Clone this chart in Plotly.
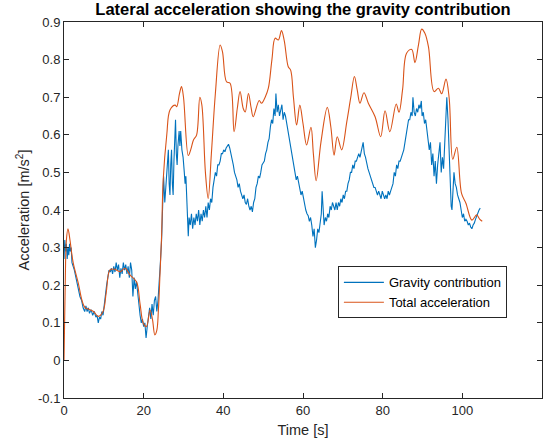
import plotly.graph_objects as go

# Gravity contribution (blue) - time [s], acceleration [m/s^2]
t_grav = [0.0, 0.2, 0.4, 0.6, 0.8, 1.0, 1.2, 1.4, 1.6, 1.8, 2.0, 2.3, 2.6, 3.0, 3.4, 3.7, 4.0, 4.4, 4.8, 5.2,
          5.5, 5.8, 6.1, 6.4, 6.8, 7.2, 7.6, 8.0, 8.3, 8.6, 8.9, 9.2, 9.5, 9.8, 10.1, 10.4, 10.7, 11.0, 11.3, 11.6,
          11.9, 12.2, 12.5, 12.8, 13.1, 13.4, 13.7, 14.0, 14.3, 14.6, 14.9, 15.2, 15.5, 15.8, 16.1, 16.4, 16.7, 17.0, 17.3, 17.6,
          17.9, 18.2, 18.5, 18.8, 19.1, 19.4, 19.7, 20.0, 20.3, 20.6, 20.9, 21.2, 21.5, 21.8, 22.1, 22.4, 22.7, 23.0, 23.3, 23.6,
          23.9, 24.2, 24.5, 24.8, 25.0, 25.3, 25.6, 25.9, 26.2, 26.4, 26.6, 26.8, 27.0, 27.2, 27.4, 27.6, 27.8, 28.0, 28.2, 28.4,
          28.6, 28.9, 29.1, 29.3, 29.6, 29.9, 30.2, 30.4, 30.6, 30.8, 31.0, 31.2, 31.4, 31.7, 32.0, 32.3, 32.6, 32.9, 33.2, 33.5,
          33.8, 34.1, 34.4, 34.7, 35.0, 35.3, 35.6, 35.9, 36.2, 36.5, 36.8, 37.1, 37.4, 37.7, 38.0, 38.3, 38.6, 38.9, 39.2, 39.5,
          39.8, 40.1, 40.4, 40.7, 41.0, 41.3, 41.6, 41.9, 42.2, 42.5, 42.8, 43.1, 43.4, 43.7, 44.0, 44.3, 44.6, 44.9, 45.2, 45.5,
          45.8, 46.1, 46.4, 46.7, 47.0, 47.3, 47.6, 47.9, 48.2, 48.5, 48.8, 49.1, 49.4, 49.7, 50.0, 50.3, 50.6, 50.9, 51.2, 51.5,
          51.8, 52.1, 52.4, 52.7, 53.0, 53.2, 53.5, 53.8, 54.1, 54.4, 54.7, 55.0, 55.3, 55.6, 55.9, 56.2, 56.5, 56.8, 57.1, 57.4,
          57.7, 58.0, 58.3, 58.6, 58.9, 59.2, 59.5, 59.8, 60.1, 60.4, 60.7, 61.0, 61.3, 61.6, 61.9, 62.2, 62.5, 62.8, 63.1, 63.4,
          63.7, 64.0, 64.3, 64.6, 64.8, 65.0, 65.3, 65.6, 65.9, 66.2, 66.5, 66.8, 67.1, 67.4, 67.7, 68.0, 68.3, 68.6, 68.9, 69.2,
          69.5, 69.8, 70.1, 70.4, 70.7, 71.0, 71.3, 71.6, 71.9, 72.2, 72.5, 72.8, 73.1, 73.4, 73.7, 74.0, 74.3, 74.6, 74.9, 75.1,
          75.4, 75.7, 76.0, 76.3, 76.6, 76.9, 77.2, 77.5, 77.8, 78.1, 78.4, 78.7, 79.0, 79.3, 79.6, 79.9, 80.2, 80.5, 80.8, 81.1,
          81.4, 81.7, 82.0, 82.3, 82.6, 82.9, 83.2, 83.5, 83.8, 84.1, 84.4, 84.7, 85.0, 85.3, 85.6, 85.9, 86.2, 86.5, 86.8, 87.1,
          87.4, 87.6, 87.9, 88.2, 88.5, 88.8, 89.1, 89.4, 89.7, 89.9, 90.2, 90.5, 90.8, 91.1, 91.4, 91.7, 92.0, 92.3, 92.6, 92.9,
          93.2, 93.5, 93.8, 94.1, 94.4, 94.7, 95.0, 95.3, 95.6, 95.9, 96.1, 96.4, 96.7, 96.9, 97.2, 97.4, 97.7, 97.9, 98.2, 98.5,
          98.8, 99.1, 99.4, 99.7, 100.0, 100.3, 100.6, 100.9, 101.2, 101.5, 101.8, 102.1, 102.4, 102.7, 103.0, 103.3, 103.6, 103.9, 104.2, 104.5]
a_grav = [0.27, 0.32, 0.29, 0.31, 0.27, 0.30, 0.28, 0.31, 0.29, 0.30, 0.26, 0.25, 0.24, 0.22, 0.20, 0.19, 0.17, 0.16, 0.14, 0.13,
          0.145, 0.13, 0.14, 0.125, 0.135, 0.12, 0.13, 0.115, 0.12, 0.10, 0.115, 0.11, 0.13, 0.12, 0.15, 0.17, 0.20, 0.22, 0.24, 0.235,
          0.245, 0.23, 0.25, 0.235, 0.26, 0.24, 0.255, 0.22, 0.245, 0.23, 0.26, 0.24, 0.255, 0.23, 0.25, 0.22, 0.26, 0.24, 0.17, 0.22,
          0.19, 0.21, 0.17, 0.15, 0.12, 0.10, 0.11, 0.09, 0.10, 0.06, 0.09, 0.12, 0.14, 0.11, 0.15, 0.12, 0.16, 0.17, 0.13, 0.16,
          0.20, 0.26, 0.32, 0.44, 0.49, 0.42, 0.46, 0.50, 0.56, 0.47, 0.44, 0.52, 0.56, 0.47, 0.44, 0.53, 0.58, 0.64, 0.55, 0.52,
          0.57, 0.61, 0.57, 0.61, 0.56, 0.54, 0.50, 0.47, 0.49, 0.43, 0.37, 0.33, 0.38, 0.36, 0.39, 0.35, 0.38, 0.36, 0.39, 0.37,
          0.40, 0.36, 0.39, 0.37, 0.40, 0.38, 0.41, 0.38, 0.42, 0.40, 0.43, 0.42, 0.46, 0.48, 0.50, 0.49, 0.52, 0.52, 0.53, 0.55,
          0.55, 0.56, 0.555, 0.565, 0.57, 0.575, 0.565, 0.55, 0.54, 0.52, 0.50, 0.49, 0.48, 0.46, 0.47, 0.45, 0.44, 0.43, 0.44, 0.42,
          0.415, 0.43, 0.41, 0.40, 0.41, 0.395, 0.42, 0.43, 0.46, 0.47, 0.49, 0.485, 0.50, 0.52, 0.525, 0.53, 0.55, 0.56, 0.58, 0.59,
          0.62, 0.64, 0.63, 0.67, 0.65, 0.71, 0.66, 0.68, 0.65, 0.67, 0.68, 0.64, 0.66, 0.65, 0.63, 0.62, 0.60, 0.57, 0.55, 0.53,
          0.51, 0.50, 0.48, 0.49, 0.47, 0.46, 0.44, 0.45, 0.43, 0.41, 0.40, 0.39, 0.385, 0.37, 0.38, 0.36, 0.33, 0.35, 0.30, 0.32,
          0.35, 0.34, 0.37, 0.39, 0.45, 0.40, 0.36, 0.38, 0.37, 0.39, 0.38, 0.41, 0.40, 0.42, 0.41, 0.40, 0.42, 0.40, 0.42, 0.41,
          0.43, 0.42, 0.44, 0.43, 0.45, 0.45, 0.47, 0.48, 0.50, 0.50, 0.52, 0.51, 0.53, 0.53, 0.54, 0.55, 0.54, 0.56, 0.57, 0.58,
          0.55, 0.54, 0.52, 0.51, 0.50, 0.49, 0.48, 0.47, 0.46, 0.46, 0.45, 0.44, 0.45, 0.44, 0.43, 0.45, 0.44, 0.43, 0.44, 0.43,
          0.45, 0.44, 0.45, 0.46, 0.47, 0.50, 0.49, 0.52, 0.51, 0.53, 0.53, 0.54, 0.55, 0.56, 0.58, 0.60, 0.62, 0.64, 0.64, 0.66,
          0.65, 0.70, 0.66, 0.65, 0.67, 0.66, 0.68, 0.67, 0.69, 0.65, 0.66, 0.63, 0.64, 0.61, 0.59, 0.56, 0.58, 0.52, 0.55, 0.49,
          0.53, 0.47, 0.52, 0.55, 0.58, 0.50, 0.54, 0.51, 0.60, 0.66, 0.70, 0.64, 0.55, 0.48, 0.41, 0.40, 0.46, 0.50, 0.47, 0.46,
          0.44, 0.43, 0.42, 0.40, 0.38, 0.39, 0.37, 0.375, 0.37, 0.36, 0.365, 0.355, 0.35, 0.36, 0.365, 0.375, 0.385, 0.395, 0.40, 0.405]

# Total acceleration (orange)
t_total = [0.0, 0.3, 0.6, 1.0, 1.5, 2.3, 3.6, 4.5, 5.3, 6.5, 7.4, 8.6, 9.8, 10.6, 11.5, 12.5, 14.1, 15.3, 16.6, 18.2,
           19.1, 19.9, 20.7, 21.6, 22.2, 22.8, 23.3, 23.7, 24.1, 24.5, 24.9, 25.8, 26.6, 27.9, 28.3, 29.0, 29.5, 30.0, 31.2, 31.8,
           32.5, 33.3, 34.1, 34.6, 35.5, 36.2, 37.0, 38.0, 39.2, 39.8, 40.8, 41.7, 42.7, 43.5, 44.2, 45.0, 45.5, 46.3, 47.0, 47.5,
           49.0, 49.6, 50.5, 51.3, 52.2, 53.0, 53.8, 54.6, 55.3, 56.3, 56.9, 57.6, 58.4, 59.2, 60.0, 60.9, 62.0, 62.6, 63.3, 64.5,
           66.1, 67.0, 67.8, 68.6, 69.7, 71.0, 72.0, 72.9, 73.6, 74.3, 75.3, 76.4, 78.1, 79.5, 80.6, 81.8, 83.4, 84.1, 85.0, 86.0,
           87.3, 88.1, 89.0, 89.8, 90.6, 91.5, 92.9, 94.0, 94.8, 95.9, 96.7, 97.6, 98.6, 99.8, 100.9, 102.4, 103.6, 104.4, 105.0]
a_total = [0.0, 0.2, 0.32, 0.35, 0.32, 0.26, 0.205, 0.16, 0.14, 0.135, 0.13, 0.117, 0.13, 0.18, 0.24, 0.243, 0.236, 0.245, 0.227, 0.209,
           0.15, 0.099, 0.09, 0.134, 0.11, 0.068, 0.08, 0.134, 0.23, 0.33, 0.48, 0.6, 0.666, 0.679, 0.675, 0.71, 0.728, 0.70, 0.545, 0.56,
           0.586, 0.6, 0.70, 0.68, 0.50, 0.431, 0.55, 0.71, 0.839, 0.82, 0.741, 0.737, 0.608, 0.67, 0.715, 0.67, 0.661, 0.71, 0.67, 0.648,
           0.691, 0.684, 0.70, 0.724, 0.80, 0.857, 0.852, 0.877, 0.85, 0.781, 0.772, 0.70, 0.626, 0.679, 0.63, 0.573, 0.62, 0.55, 0.478, 0.58,
           0.673, 0.62, 0.546, 0.595, 0.56, 0.635, 0.70, 0.755, 0.72, 0.684, 0.712, 0.684, 0.648, 0.595, 0.664, 0.608, 0.682, 0.66, 0.72, 0.817,
           0.827, 0.792, 0.84, 0.881, 0.87, 0.834, 0.715, 0.724, 0.709, 0.748, 0.697, 0.535, 0.567, 0.444, 0.418, 0.373, 0.387, 0.375, 0.37]

x_ticks = [0, 20, 40, 60, 80, 100, 120]
y_ticks = [-0.1, 0, 0.1, 0.2, 0.3, 0.4, 0.5, 0.6, 0.7, 0.8, 0.9]
y_ticktext = ["-0.1", "0", "0.1", "0.2", "0.3", "0.4", "0.5", "0.6", "0.7", "0.8", "0.9"]

FONT = "Liberation Sans, Arial, Helvetica, sans-serif"
AX = "#262626"

fig = go.Figure()
fig.add_trace(go.Scatter(x=t_grav, y=a_grav, mode="lines", name="Gravity contribution",
                         line=dict(color="#0072BD", width=1.1)))
fig.add_trace(go.Scatter(x=t_total, y=a_total, mode="lines", name="Total acceleration",
                         line=dict(color="#D95319", width=1.1, shape="spline", smoothing=1.0)))

axis_common = dict(showgrid=False, zeroline=False, showline=True, linecolor=AX, linewidth=1,
                   mirror="ticks", ticks="inside", ticklen=5, tickcolor=AX, tickwidth=1,
                   tickfont=dict(family=FONT, size=13, color=AX))

fig.update_layout(
    width=550, height=448,
    margin=dict(l=64, r=8, t=22, b=50),
    paper_bgcolor="white", plot_bgcolor="white",
    font=dict(family=FONT, color=AX),
    title=dict(text="<b>Lateral acceleration showing the gravity contribution</b>",
               x=0.5, xref="paper", xanchor="center", y=1, yref="container", yanchor="top",
               pad=dict(t=3), font=dict(family=FONT, size=16.5, color="black")),
    xaxis=dict(range=[0, 120], tickvals=x_ticks,
               title=dict(text="Time [s]", font=dict(family=FONT, size=14.5, color=AX), standoff=8),
               **axis_common),
    yaxis=dict(range=[-0.1, 0.9], tickvals=y_ticks, ticktext=y_ticktext,
               title=dict(text="Acceleration [m/s<sup>2</sup>]", font=dict(family=FONT, size=14.5, color=AX), standoff=4),
               **axis_common),
    legend=dict(x=0.573, y=0.35, xanchor="left", yanchor="top",
                bgcolor="white", bordercolor=AX, borderwidth=1,
                font=dict(family=FONT, size=13, color="black"),
                tracegroupgap=0, itemwidth=40),
    showlegend=True,
)

fig.write_html("out.html")
